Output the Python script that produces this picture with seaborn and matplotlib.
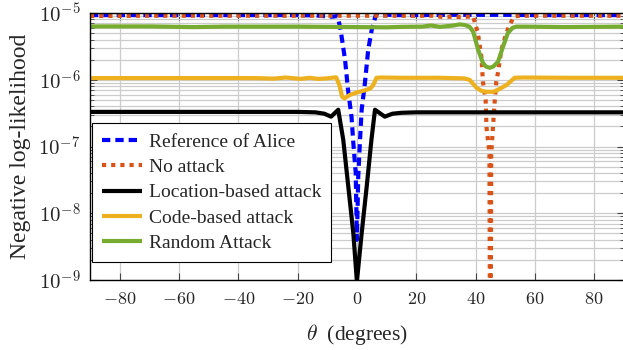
import numpy as np
import pandas as pd
import seaborn as sns
import matplotlib
matplotlib.use("Agg")
import matplotlib.pyplot as plt
from matplotlib.ticker import FixedLocator, FuncFormatter, LogLocator, NullFormatter

# ---------------- data ----------------
alice_theta = [-90, -70, -50, -30, -20, -14, -10, -8.5, -6.5, -5.5, -4.0, -3.0, -1.8, -1.2,
               -0.4, 0.0, 0.45, 1.0, 1.6, 2.7, 3.8, 5.0, 6.4, 7.7, 10.5, 14, 20, 30, 40, 50, 60, 70, 90]
alice_val = [9.3e-6, 9.3e-6, 9.3e-6, 9.3e-6, 9.3e-6, 9.2e-6, 8.9e-6, 8.8e-6, 9.0e-6, 5.6e-6,
             2.0e-6, 7.1e-7, 2.75e-7, 1.12e-7, 4.0e-8, 4.0e-9, 3.5e-8, 1.12e-7, 3.55e-7,
             8.9e-7, 2.8e-6, 5.6e-6, 9.4e-6, 9.0e-6, 9.4e-6, 9.3e-6, 9.3e-6, 9.4e-6, 9.4e-6,
             9.4e-6, 9.3e-6, 9.3e-6, 9.3e-6]

noatk_theta = [-90, -70, -50, -30, -10, 0, 10, 20, 25.6, 29, 32, 35, 39.2, 40.8, 42.0, 42.5,
               43.4, 43.7, 44.7, 45.0, 45.3, 45.9, 46.5, 47.0, 47.6, 48.7, 50.4, 51.5, 53, 55,
               60, 70, 80, 90]
noatk_val = [9.0e-6, 9.1e-6, 9.1e-6, 9.1e-6, 9.1e-6, 9.1e-6, 9.1e-6, 9.1e-6, 9.1e-6, 8.7e-6,
             8.8e-6, 8.7e-6, 8.9e-6, 5.0e-6, 2.15e-6, 9.3e-7, 5.0e-7, 1.95e-7, 7.9e-8, 1e-12,
             7.9e-8, 2.0e-7, 5.0e-7, 9.3e-7, 1.3e-6, 2.8e-6, 5.0e-6, 6.6e-6, 8.9e-6, 9.1e-6,
             9.1e-6, 9.1e-6, 9.1e-6, 9.1e-6]

loc_theta = [-90, -70, -50, -30, -20, -14, -11, -8.7, -6.3, -4.6, -2.9, -1.2, 0.0, 1.6, 3.3,
             4.9, 6.1, 9.4, 12, 15, 20, 40, 60, 90]
loc_val = [3.3e-7, 3.3e-7, 3.3e-7, 3.3e-7, 3.3e-7, 3.25e-7, 3.1e-7, 2.8e-7, 3.55e-7, 1.26e-7,
           2.5e-8, 5.0e-9, 9.5e-10, 5.0e-9, 2.5e-8, 1.26e-7, 3.55e-7, 2.8e-7, 3.1e-7, 3.2e-7,
           3.25e-7, 3.25e-7, 3.25e-7, 3.25e-7]

code_theta = [-90, -70, -50, -35, -28, -24, -19, -16, -13, -10, -7.0, -5.9, -5.0, -4.2, -2.5,
              0.0, 2.5, 4.5, 5.5, 6.6, 8, 15, 28, 36, 38, 40.3, 42, 43.7, 46, 47.6, 50.4,
              53.2, 56, 70, 90]
code_val = [1.06e-6, 1.06e-6, 1.06e-6, 1.06e-6, 1.04e-6, 1.08e-6, 1.03e-6, 1.07e-6, 1.03e-6,
            1.05e-6, 1.09e-6, 8.3e-7, 5.6e-7, 5.25e-7, 5.9e-7, 6.45e-7, 6.9e-7, 7.4e-7,
            8.3e-7, 1.07e-6, 1.08e-6, 1.07e-6, 1.07e-6, 1.05e-6, 1.0e-6, 7.6e-7, 6.8e-7,
            6.6e-7, 6.6e-7, 7.1e-7, 8.3e-7, 1.07e-6, 1.08e-6, 1.07e-6, 1.07e-6]

rand_theta = [-90, -70, -55, -45, -20, -10, 0, 10, 15, 22, 25, 28, 32, 34.7, 36.5, 38, 39.2,
              40.9, 42.5, 43.5, 44.8, 46, 47.6, 49.3, 50.9, 52.5, 53.8, 57, 70, 90]
rand_val = [6.3e-6, 6.3e-6, 6.15e-6, 6.25e-6, 6.25e-6, 6.2e-6, 6.15e-6, 6.1e-6, 6.2e-6,
            6.25e-6, 6.5e-6, 6.2e-6, 6.45e-6, 6.75e-6, 6.6e-6, 6.2e-6, 5.25e-6, 2.8e-6,
            1.78e-6, 1.58e-6, 1.51e-6, 1.58e-6, 1.86e-6, 3.16e-6, 5.0e-6, 6.0e-6, 6.25e-6,
            6.25e-6, 6.15e-6, 6.25e-6]

labels = ["Reference of Alice", "No attack", "Location-based attack",
          "Code-based attack", "Random Attack"]
colors = ["#0000FF", "#D95319", "#000000", "#EDB120", "#77AC30"]
x_ticks = [-80, -60, -40, -20, 0, 20, 40, 60, 80]

# ---------------- style ----------------
sns.set_theme(style="ticks")
plt.rcParams["font.family"] = ["Liberation Serif", "DejaVu Serif"]
plt.rcParams["mathtext.fontset"] = "cm"

fig = plt.figure(figsize=(6.23, 3.5), dpi=100)
ax = fig.add_axes([90 / 623, 70 / 350, (623.8 - 90) / 623, 267 / 350])

series = [(alice_theta, alice_val), (noatk_theta, noatk_val), (loc_theta, loc_val),
          (code_theta, code_val), (rand_theta, rand_val)]
dash_specs = [(2.0, 1.2), (1.0, 1.2), None, None, None]

for (th, v), lab, col, dsh in zip(series, labels, colors, dash_specs):
    df = pd.DataFrame({"theta": th, "val": v})
    sns.lineplot(data=df, x="theta", y="val", ax=ax, color=col, lw=3.0,
                 label=lab, estimator=None)
    line = ax.lines[-1]
    if dsh is not None:
        line.set_dashes(dsh)
        line.set_dash_capstyle("butt")
    line.set_solid_capstyle("butt")

ax.set_yscale("log")
ax.set_xlim(-90, 90)
ax.set_ylim(1e-9, 1e-5)

ax.xaxis.set_major_locator(FixedLocator(x_ticks))
ax.xaxis.set_major_formatter(FuncFormatter(lambda v, p: rf"${v:g}$"))
ax.yaxis.set_major_locator(LogLocator(base=10, numticks=10))
ax.yaxis.set_minor_locator(LogLocator(base=10, subs=np.arange(2, 10), numticks=20))
ax.yaxis.set_major_formatter(FuncFormatter(lambda v, p: rf"$10^{{{int(round(np.log10(v)))}}}$"))
ax.yaxis.set_minor_formatter(NullFormatter())

ax.grid(True, which="major", axis="both", color="#cccccc", lw=0.9)
ax.grid(True, which="minor", axis="y", color="#cccccc", lw=0.9)
ax.set_axisbelow(True)

ax.tick_params(axis="both", which="major", direction="in", length=5, width=0.8,
               color="#444444", top=True, right=True)
ax.tick_params(axis="y", which="major", labelsize=15, pad=7)
ax.tick_params(axis="x", which="major", labelsize=13, pad=8)
ax.tick_params(axis="y", which="minor", direction="in", length=3, width=0.6,
               color="#444444", right=True, left=True)
for s in ax.spines.values():
    s.set_color("black")
    s.set_linewidth(1.0)

ax.set_xlabel(r"$\theta$  (degrees)", fontsize=15.5, labelpad=10)
ax.set_ylabel("Negative log-likelihood", fontsize=17, labelpad=5)

leg = ax.legend(loc="upper left", bbox_to_anchor=(0.004, 0.587), fontsize=14,
                frameon=True, fancybox=False, framealpha=1, edgecolor="black",
                handlelength=2.05, handletextpad=0.38, borderpad=0.5,
                labelspacing=0.4, borderaxespad=0)
leg.get_frame().set_linewidth(0.8)

fig.savefig("out.png", dpi=100)
